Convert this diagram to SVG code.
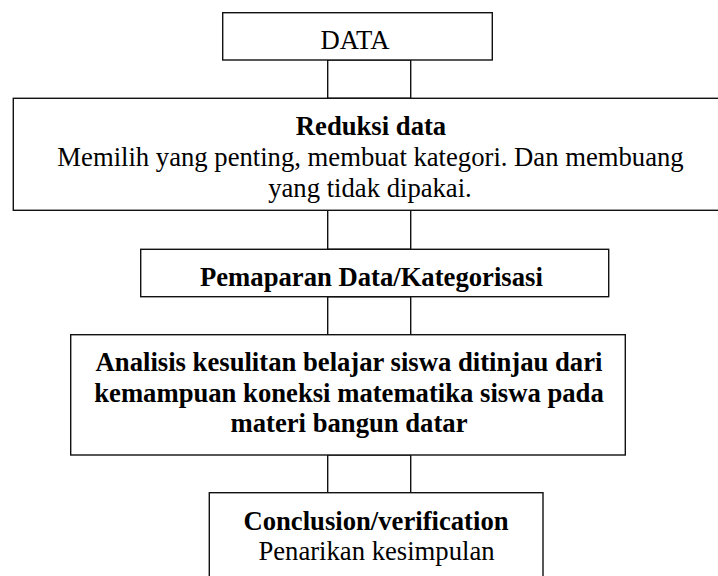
<svg xmlns="http://www.w3.org/2000/svg" width="718" height="576" viewBox="0 0 718 576">
  <style>
    .box { fill: #ffffff; stroke: #111111; stroke-width: 1.4; }
    .conn { fill: none; stroke: #111111; stroke-width: 1.4; }
    .t { font-family: "Liberation Serif", "Times New Roman", serif; font-size: 26.67px; fill: #000000; text-anchor: middle; }
    .b { font-weight: bold; }
  </style>
  <rect x="0" y="0" width="718" height="576" fill="#ffffff"/>
  <g id="connectors">
    <rect class="conn" x="327.7" y="60" width="83" height="38.3"/>
    <rect class="conn" x="327.7" y="210.3" width="83" height="39"/>
    <rect class="conn" x="327.7" y="296.7" width="83" height="38"/>
    <rect class="conn" x="327.7" y="455" width="83" height="37.7"/>
  </g>
  <g id="node-data">
    <rect class="box" x="222.7" y="12.7" width="269.6" height="47.3"/>
    <text class="t" x="355" y="49">DATA</text>
  </g>
  <g id="node-reduksi">
    <rect class="box" x="13.3" y="98.3" width="730" height="112"/>
    <text class="t b" x="371" y="135">Reduksi data</text>
    <text class="t" x="370.5" y="166">Memilih yang penting, membuat kategori. Dan membuang</text>
    <text class="t" x="370" y="196.5">yang tidak dipakai.</text>
  </g>
  <g id="node-pemaparan">
    <rect class="box" x="140.7" y="249.3" width="468" height="47.4"/>
    <text class="t b" x="371.4" y="285.5">Pemaparan Data/Kategorisasi</text>
  </g>
  <g id="node-analisis">
    <rect class="box" x="70.7" y="334.7" width="554.6" height="120.3"/>
    <text class="t b" x="349" y="370.5">Analisis kesulitan belajar siswa ditinjau dari</text>
    <text class="t b" x="349" y="401.5">kemampuan koneksi matematika siswa pada</text>
    <text class="t b" x="349" y="432">materi bangun datar</text>
  </g>
  <g id="node-conclusion">
    <rect class="box" x="209.3" y="492.7" width="333.7" height="100"/>
    <text class="t b" x="376" y="529.5">Conclusion/verification</text>
    <text class="t" x="376.5" y="560">Penarikan kesimpulan</text>
  </g>
</svg>
